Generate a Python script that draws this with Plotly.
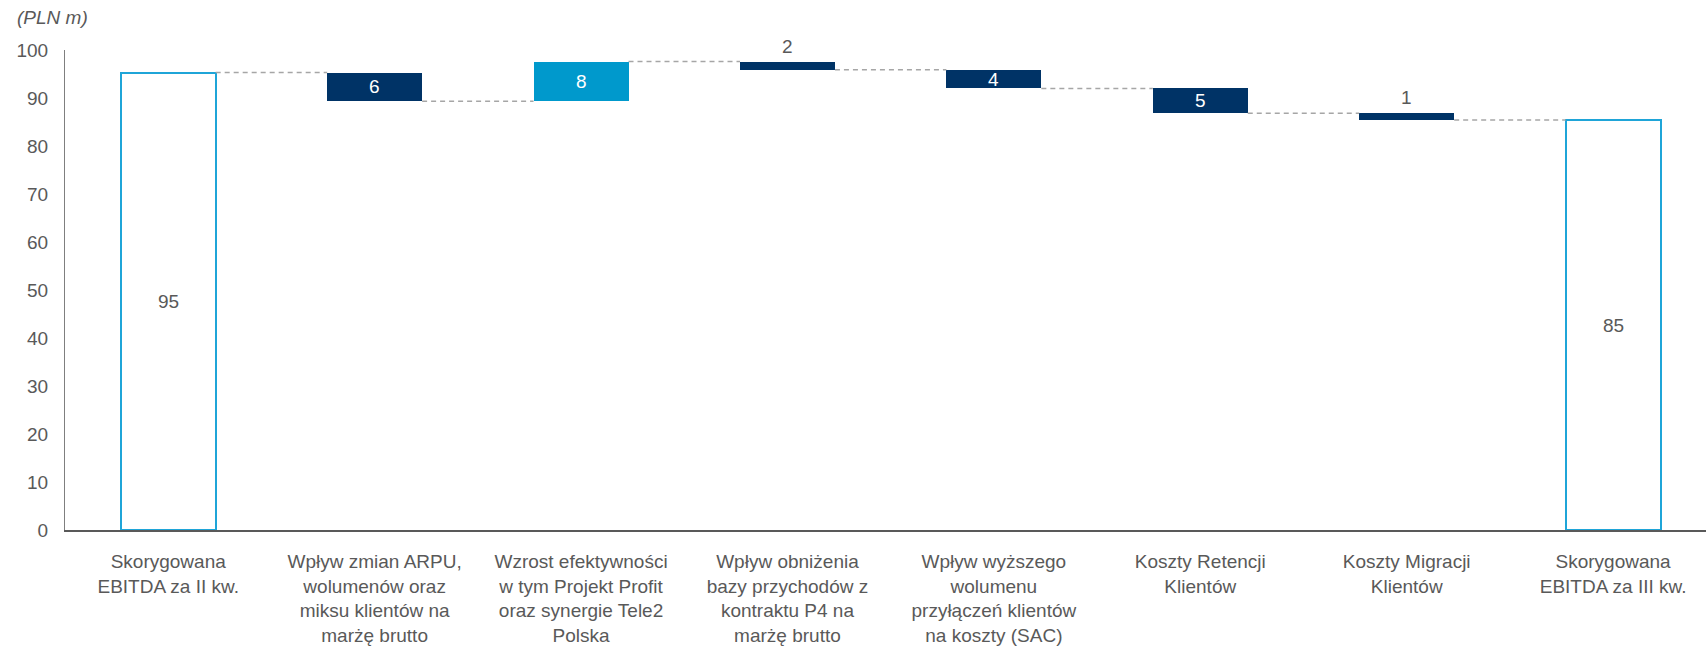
import plotly.graph_objects as go

# data (PLN m)
categories = [
    "Skorygowana<br>EBITDA za II kw.",
    "Wpływ zmian ARPU,<br>wolumenów oraz<br>miksu klientów na<br>marżę brutto",
    "Wzrost efektywności<br>w tym Projekt Profit<br>oraz synergie Tele2<br>Polska",
    "Wpływ obniżenia<br>bazy przychodów z<br>kontraktu P4 na<br>marżę brutto",
    "Wpływ wyższego<br>wolumenu<br>przyłączeń klientów<br>na koszty (SAC)",
    "Koszty Retencji<br>Klientów",
    "Koszty Migracji<br>Klientów",
    "Skorygowana<br>EBITDA za III kw.",
]
values = [95.3, -6.0, 8.3, -1.7, -3.9, -5.2, -1.4, 85.4]
measure = ["total", "delta", "delta", "delta", "delta", "delta", "delta", "total"]
y_ticks = [0, 10, 20, 30, 40, 50, 60, 70, 80, 90, 100]

NAVY = "#003366"
BLUE = "#0099CC"
OUTLINE = "#1FA5D8"
GREY_TXT = "#595959"
FONT = "Liberation Sans, Arial, sans-serif"
BAR_W = 0.46

# build floating bars
bases, heights, colors, line_colors, line_widths = [], [], [], [], []
running = 0.0
levels = []  # level after each bar (for connectors)
for v, m in zip(values, measure):
    if m == "total":
        bases.append(0)
        heights.append(v)
        colors.append("white")
        line_colors.append(OUTLINE)
        line_widths.append(2)
        running = v
    else:
        bottom = min(running, running + v)
        bases.append(bottom)
        heights.append(abs(v))
        colors.append(BLUE if v > 0 else NAVY)
        line_colors.append(BLUE if v > 0 else NAVY)
        line_widths.append(0)
        running += v
    levels.append(running)

xs = list(range(len(categories)))

fig = go.Figure()
fig.add_trace(go.Bar(
    x=xs, y=heights, base=bases, width=BAR_W,
    marker=dict(color=colors, line=dict(color=line_colors, width=line_widths)),
    hoverinfo="skip", showlegend=False,
))

# dashed connectors between bars
for i in range(len(xs) - 1):
    fig.add_trace(go.Scatter(
        x=[xs[i] + BAR_W / 2, xs[i + 1] - BAR_W / 2],
        y=[levels[i], levels[i]],
        mode="lines",
        line=dict(color="#a6a6a6", width=1.5, dash="5px,4px"),
        hoverinfo="skip", showlegend=False,
    ))

# value labels
for i, (v, m) in enumerate(zip(values, measure)):
    label = str(int(round(abs(v))))
    top = bases[i] + heights[i]
    if m == "total":
        fig.add_annotation(x=xs[i], y=bases[i] + heights[i] / 2, text=label,
                           showarrow=False, font=dict(size=19, color=GREY_TXT, family=FONT))
    elif heights[i] < 2.5:
        fig.add_annotation(x=xs[i], y=top, text=label, yanchor="bottom", yshift=3,
                           showarrow=False, font=dict(size=19, color=GREY_TXT, family=FONT))
    else:
        fig.add_annotation(x=xs[i], y=bases[i] + heights[i] / 2, text=label,
                           showarrow=False, font=dict(size=19, color="white", family=FONT))

fig.add_annotation(x=-0.0305, y=1.0, xref="paper", yref="paper", xanchor="left", yanchor="bottom",
                   yshift=20, text="<i>(PLN m)</i>", showarrow=False,
                   font=dict(size=19, color=GREY_TXT, family=FONT))

fig.update_layout(
    width=1706, height=657,
    margin=dict(l=65, r=0, t=50, b=127),
    plot_bgcolor="white", paper_bgcolor="white",
    font=dict(family=FONT, size=19, color=GREY_TXT),
    bargap=0,
)
fig.update_xaxes(
    range=[-0.5, 7.45], tickvals=xs, ticktext=categories,
    showgrid=False, zeroline=False,
    showline=True, linecolor="#595959", linewidth=2,
    ticks="outside", ticklen=13, tickcolor="rgba(0,0,0,0)",
    tickfont=dict(size=19, color=GREY_TXT),
)
fig.update_yaxes(
    range=[0, 100], tickvals=y_ticks,
    showgrid=False, zeroline=False,
    showline=True, linecolor="#7f7f7f", linewidth=1,
    ticks="", ticklabelstandoff=12,
    tickfont=dict(size=19, color=GREY_TXT),
)

# page body has a default margin; drop it so the figure fills the window
fig.write_html("out.html", config={"displayModeBar": False},
               post_script="document.body.style.margin='0';")
